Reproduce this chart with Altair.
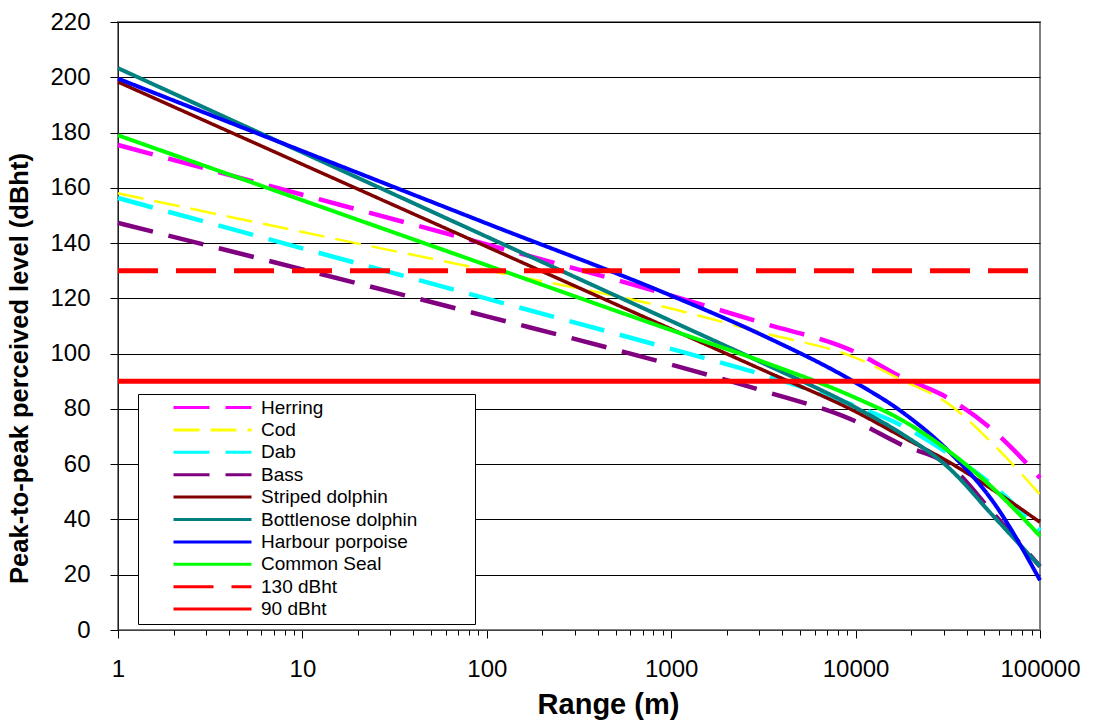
import altair as alt
import pandas as pd

# Range from the source (m), shared by every species curve
RANGE_M = [1, 10, 100, 1000, 3162, 10000, 17783, 31623, 56234, 100000]

# Peak-to-peak perceived level (dBht) for each species
HERRING = [175.5, 157.5, 139.5, 121.0, 111.0, 100.5, 91.5, 84.0, 72.0, 55.0]
COD = [158.0, 144.0, 130.2, 116.3, 107.5, 98.5, 90.5, 82.0, 67.0, 49.0]
DAB = [156.3, 138.1, 119.9, 101.7, 92.3, 81.0, 74.0, 64.0, 52.0, 36.0]
BASS = [147.3, 130.5, 113.5, 96.0, 86.5, 75.5, 67.0, 60.0, 42.0, 23.0]
STRIPED_DOLPHIN = [198.3, 168.5, 138.7, 108.9, 94.0, 79.0, 70.0, 61.0, 50.5, 39.0]
BOTTLENOSE_DOLPHIN = [203.3, 172.8, 142.3, 111.8, 96.5, 80.5, 71.0, 59.0, 41.0, 23.0]
HARBOUR_PORPOISE = [199.5, 173.3, 147.1, 121.0, 106.5, 89.5, 79.0, 65.0, 46.0, 18.0]
COMMON_SEAL = [179.0, 155.5, 132.0, 108.5, 97.0, 84.0, 76.0, 65.0, 51.0, 34.0]

# Threshold reference lines
THRESHOLD_RANGE = [1, 100000]
LEVEL_130 = [130, 130]
LEVEL_90 = [90, 90]

SERIES = ["Herring", "Cod", "Dab", "Bass", "Striped dolphin", "Bottlenose dolphin",
          "Harbour porpoise", "Common Seal", "130 dBht", "90 dBht"]
COLORS = ["#FF00FF", "#FFFF00", "#00FFFF", "#800080", "#800000", "#008080",
          "#0000FF", "#00FF00", "#FF0000", "#FF0000"]
DASHES = [[36, 16], [26, 11], [36, 16], [36, 16], [1, 0], [1, 0],
          [1, 0], [1, 0], [40, 18], [1, 0]]
WIDTHS = [4.5, 2.5, 4.5, 4.5, 3.5, 4, 4, 4, 5, 5]

X_MAJOR = [1, 10, 100, 1000, 10000, 100000]
X_MINOR = [m * d for d in [1, 10, 100, 1000, 10000] for m in range(2, 10)]
Y_TICKS = list(range(0, 221, 20))

curves = [
    ("Herring", RANGE_M, HERRING),
    ("Cod", RANGE_M, COD),
    ("Dab", RANGE_M, DAB),
    ("Bass", RANGE_M, BASS),
    ("Striped dolphin", RANGE_M, STRIPED_DOLPHIN),
    ("Bottlenose dolphin", RANGE_M, BOTTLENOSE_DOLPHIN),
    ("Harbour porpoise", RANGE_M, HARBOUR_PORPOISE),
    ("Common Seal", RANGE_M, COMMON_SEAL),
    ("130 dBht", THRESHOLD_RANGE, LEVEL_130),
    ("90 dBht", THRESHOLD_RANGE, LEVEL_90),
]
rows = []
for (name, xs, ys), w in zip(curves, WIDTHS):
    for x, y in zip(xs, ys):
        rows.append({"series": name, "range": x, "level": y, "width": w})
df = pd.DataFrame(rows)

FONT = "Liberation Sans"
x_scale = alt.Scale(type="log", domain=[1, 100000], nice=False)
y_scale = alt.Scale(domain=[0, 220], nice=False)

# Blank title on the right keeps empty room inside the legend frame
legend = alt.Legend(
    title=" ", titleOrient="right", titlePadding=54, titleFontSize=19,
    orient="none", legendX=20, legendY=372,
    fillColor="white", strokeColor="#000000", padding=4,
    symbolType="M-5.2,0H5.2", symbolSize=225, symbolStrokeWidth=3,
    symbolOffset=61, labelOffset=39, labelFont=FONT,
    labelFontSize=19, labelColor="#000000", rowPadding=2.4,
    labelLimit=400,
)

lines = alt.Chart(df).mark_line(interpolate="monotone").encode(
    x=alt.X("range:Q", scale=x_scale, title="Range (m)",
            axis=alt.Axis(values=X_MAJOR, format="d", orient="bottom", tickSize=8,
                          labelPadding=19, labelFontSize=24, labelFont=FONT,
                          labelFlush=False,
                          titleFont=FONT, titleFontSize=29, titleFontWeight="bold",
                          titleX=490, titleY=83, titleBaseline="alphabetic",
                          grid=False, domainColor="#404040")),
    y=alt.Y("level:Q", scale=y_scale, title="Peak-to-peak perceived level (dBht)",
            axis=alt.Axis(values=Y_TICKS, tickSize=8, labelPadding=20,
                          labelFontSize=24, labelFont=FONT, titleFont=FONT,
                          titleFontSize=25.5, titleFontWeight="bold", titleAngle=270,
                          titleX=-86, titleY=346, titleBaseline="bottom",
                          titleAlign="center", grid=True, gridColor="#000000",
                          gridWidth=1.2, domainColor="#202020")),
    color=alt.Color("series:N", scale=alt.Scale(domain=SERIES, range=COLORS),
                    legend=legend),
    strokeDash=alt.StrokeDash("series:N", scale=alt.Scale(domain=SERIES, range=DASHES),
                              legend=legend),
    strokeWidth=alt.StrokeWidth("width:Q", scale=None, legend=None),
)

# Minor log ticks on the range axis
minor = alt.Chart(pd.DataFrame({"range": X_MINOR})).mark_point(opacity=0).encode(
    x=alt.X("range:Q", scale=x_scale,
            axis=alt.Axis(values=X_MINOR, orient="bottom", labels=False, domain=False,
                          grid=False, tickSize=5, title=None, tickColor="#000000")),
)

chart = alt.layer(lines, minor).resolve_axis(x="independent").properties(
    width=922, height=608,
    autosize=alt.AutoSizeParams(type="none"),
    padding={"left": 118, "top": 22, "right": 55, "bottom": 94},
    background="white",
).configure_view(stroke="#808080", strokeWidth=2).configure_axis(
    labelColor="#000000", titleColor="#000000", tickColor="#000000",
)

chart.save("out.html", embed_options={"renderer": "svg", "actions": False})
